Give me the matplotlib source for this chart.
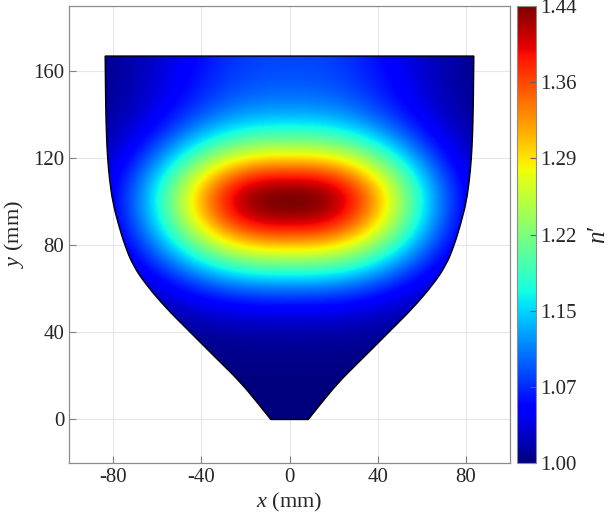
import matplotlib
matplotlib.use("Agg")
import matplotlib.pyplot as plt
import numpy as np
from matplotlib.patches import PathPatch
from matplotlib.path import Path

plt.rcParams['font.family'] = ['Liberation Serif', 'DejaVu Serif']
plt.rcParams['mathtext.fontset'] = 'custom'
plt.rcParams['mathtext.rm'] = 'Liberation Serif'
plt.rcParams['mathtext.it'] = 'Liberation Serif:italic'
plt.rcParams['axes.unicode_minus'] = False

# outline of the region: height y (mm) -> half width (mm)
edge_y = [0, 8.3, 17.5, 26.6, 35.8, 41.9, 51, 61.7, 70.8, 80, 90, 100, 110, 120, 130, 145, 167]
edge_half = [8.5, 15, 22.6, 31.7, 40.8, 46.8, 55.8, 64.9, 71, 74.7, 77.7, 80.2, 81.6, 82.5, 83, 83.4, 83.6]

# index profile
n_base = 1.00
n_peak = 1.44
center_x, center_y = 0.0, 100.0
width_x = 60.4          # horizontal half width (flat topped)
power_x = 2.6
sigma_down = 24.0       # below the peak
sigma_up = 19.5         # core above the peak
tail_frac = 0.22        # broad tail that reaches the top edge
tail_sigma = 120.0

cbar_ticks = [1.00, 1.0733, 1.1467, 1.22, 1.2933, 1.3667, 1.44]
cbar_labels = ['1.00', '1.07', '1.15', '1.22', '1.29', '1.36', '1.44']

xs = np.linspace(-85, 85, 600)
ys = np.linspace(0, 168, 600)
X, Y = np.meshgrid(xs, ys)
d = Y - center_y
hx = np.exp(-(np.abs(X - center_x) / width_x) ** power_x)
gy_down = np.exp(-d ** 2 / (2 * sigma_down ** 2))
gy_up = (1 - tail_frac) * np.exp(-d ** 2 / (2 * sigma_up ** 2)) + tail_frac * np.exp(-d ** 2 / (2 * tail_sigma ** 2))
gy = np.where(d < 0, gy_down, gy_up)
N = n_base + (n_peak - n_base) * hx * gy


def smooth_side(pts):
    # quadratic bezier through the midpoints, the read points act as controls
    verts = [pts[0]]
    codes = [Path.LINETO]
    for i in range(1, len(pts) - 1):
        mid = ((pts[i][0] + pts[i + 1][0]) / 2, (pts[i][1] + pts[i + 1][1]) / 2)
        if i == len(pts) - 2:
            mid = pts[i + 1]
        verts += [pts[i], mid]
        codes += [Path.CURVE3, Path.CURVE3]
    return verts, codes


left = [(-h, y) for y, h in zip(edge_y, edge_half)][::-1]   # top -> bottom
right = [(h, y) for y, h in zip(edge_y, edge_half)]         # bottom -> top
lv, lc = smooth_side(left)
rv, rc = smooth_side(right)
verts = lv + rv + [lv[0]]
codes = [Path.MOVETO] + lc[1:] + rc + [Path.CLOSEPOLY]
shape = Path(verts, codes)

fig = plt.figure(figsize=(6.13, 5.26), dpi=100)
ax = fig.add_axes([69 / 613, 63 / 526, 441 / 613, 457 / 526])

img = ax.imshow(N, extent=[xs[0], xs[-1], ys[0], ys[-1]], origin='lower',
                cmap='jet', vmin=n_base, vmax=n_peak, interpolation='bilinear',
                aspect='auto', zorder=2)
outline = PathPatch(shape, facecolor='none', edgecolor='black', lw=1.0, zorder=3)
ax.add_patch(outline)
img.set_clip_path(outline)

ax.set_xlim(-100, 100)
ax.set_ylim(-20, 190)
ax.set_xticks([-80, -40, 0, 40, 80])
ax.set_yticks([0, 40, 80, 120, 160])
ax.grid(True, color='#e6e6e6', lw=0.8, zorder=0)
ax.set_axisbelow(True)
ax.tick_params(direction='in', length=5, labelsize=15, color='#808080', labelcolor='#262626')
for s in ax.spines.values():
    s.set_color('#8c8c8c')
    s.set_linewidth(0.9)
ax.set_xlabel('$x$ (mm)', fontsize=16, color='#262626', labelpad=3)
ax.set_ylabel('$y$ (mm)', fontsize=16, color='#262626', labelpad=5)

cax = fig.add_axes([517 / 613, 63 / 526, 18.5 / 613, 457 / 526])
cb = fig.colorbar(img, cax=cax)
cb.set_ticks(cbar_ticks)
cb.set_ticklabels(cbar_labels)
cb.ax.tick_params(direction='in', length=4, labelsize=15, color='#606060', labelcolor='#262626')
cb.outline.set_edgecolor('#8c8c8c')
cb.outline.set_linewidth(0.8)
cb.set_label(r'$n\prime$', fontsize=18, labelpad=8, color='#262626')

fig.savefig('out.png', dpi=100)
